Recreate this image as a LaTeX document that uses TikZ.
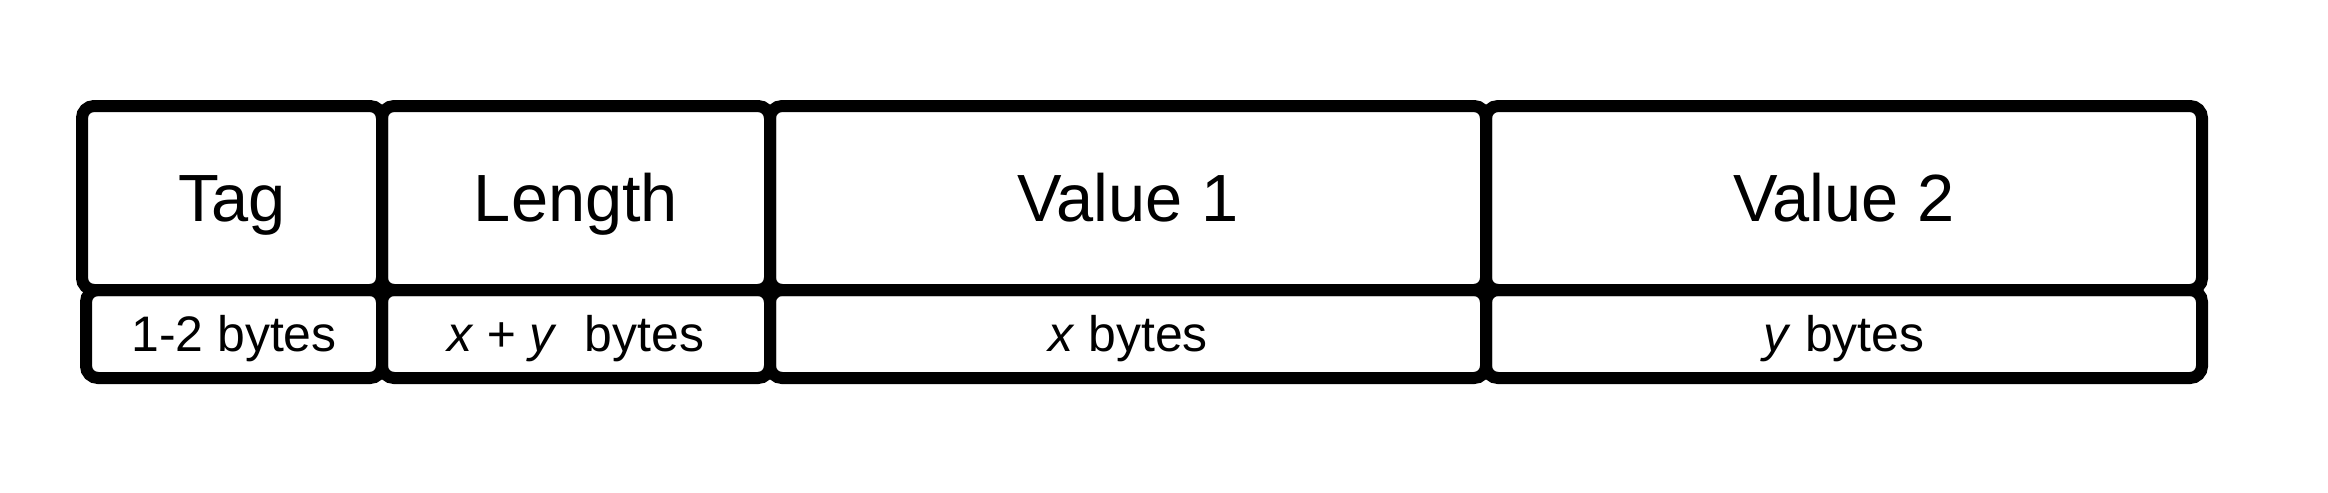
\documentclass[tikz,border=0pt]{standalone}
\usepackage{fontspec}
\setmainfont{Liberation Sans}

\begin{document}
\begin{tikzpicture}[x=0.1mm, y=-0.1mm,
  cell/.style = {draw, line width=1.2mm, rounded corners=1.2mm, inner sep=0pt, outer sep=0pt, text depth=0pt},
  head/.style = {cell, minimum height=18.4mm, text height=13.6pt, font=\fontsize{19pt}{23pt}\selectfont},
  size/.style = {cell, minimum height=8.8mm, text height=10.1pt, font=\fontsize{14.2pt}{17pt}\selectfont}]
\useasboundingbox (0,0) rectangle (2328,492);
% top row
\node[head, minimum width=30mm] (tag) at (232,198) {Tag};
\node[head, minimum width=38.8mm] (len) at (576,198) {Length};
\node[head, minimum width=71.6mm] (val1) at (1128,198) {Value 1};
\node[head, minimum width=71.6mm] (val2) at (1844,198) {Value 2};
% sizes
\node[size, minimum width=29.6mm] (tagsz) at (234,334) {1-2 bytes};
\node[size, minimum width=38.8mm] (lensz) at (576,334) {\textit{x + y}\ \ bytes};
\node[size, minimum width=71.6mm] (val1sz) at (1128,334) {\textit{x} bytes};
\node[size, minimum width=71.6mm] (val2sz) at (1844,334) {\textit{y} bytes};
\end{tikzpicture}
\end{document}
